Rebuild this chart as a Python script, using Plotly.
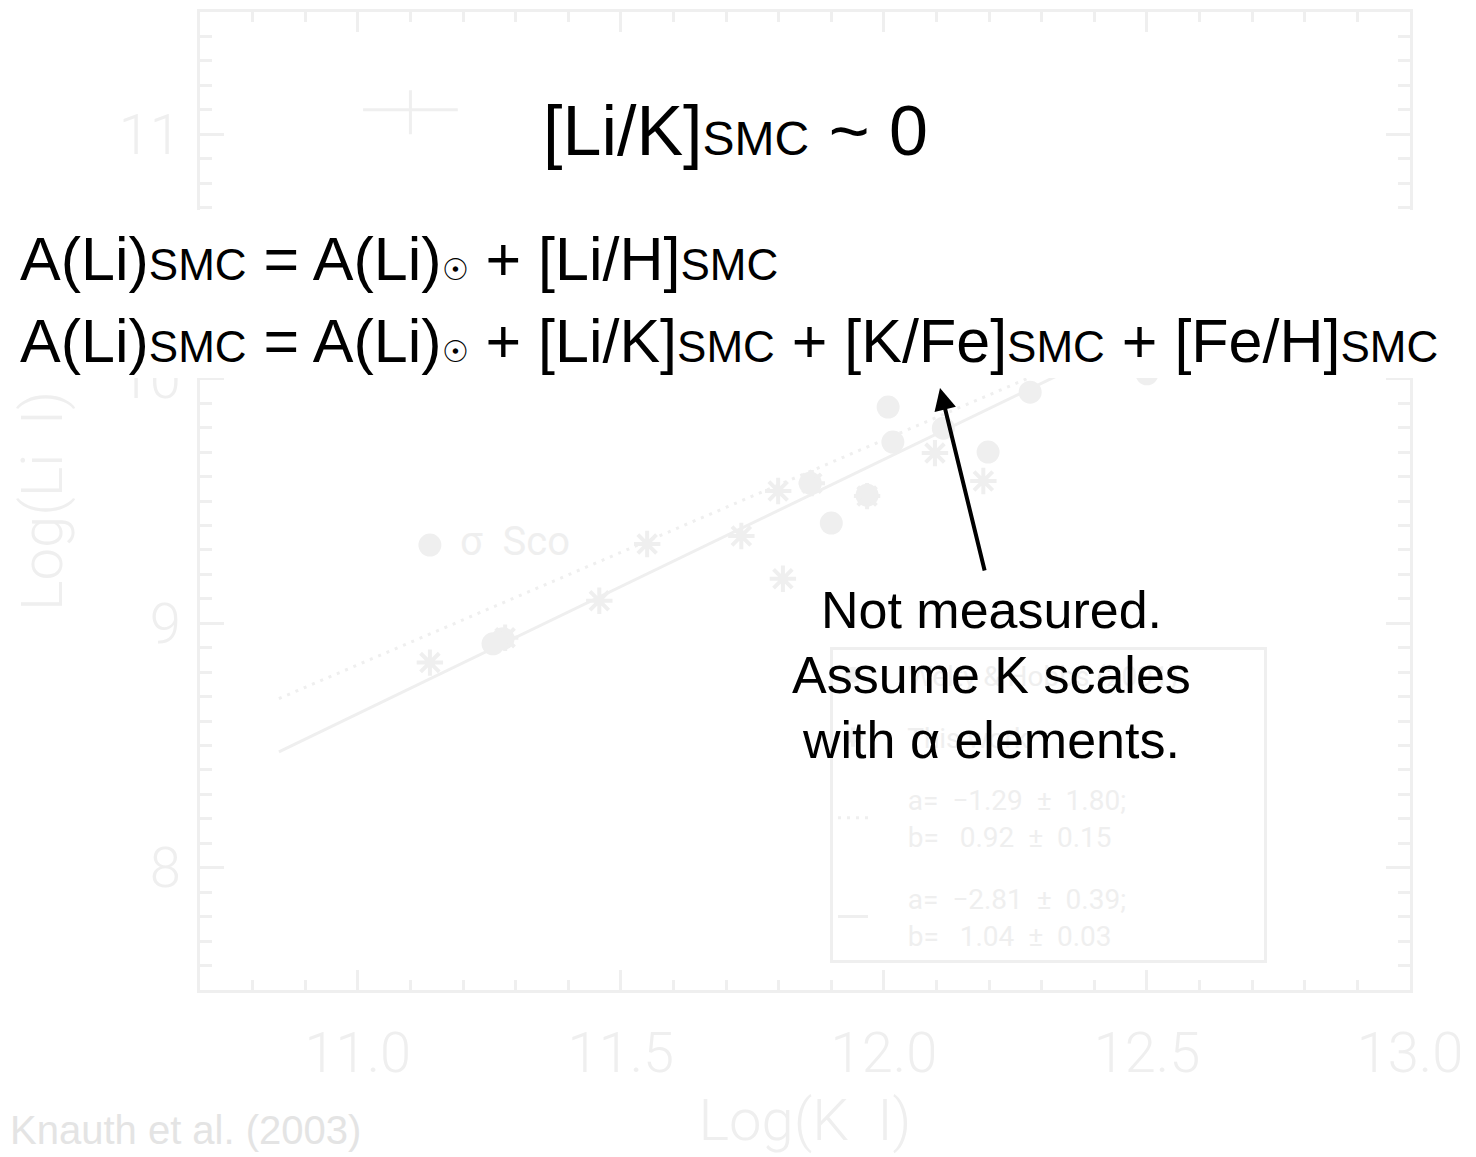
import plotly.graph_objects as go

# --- data -----------------------------------------------------------------
# Welty & Hobbs (2001) sight lines: log N(K I), log N(Li I)
WH_LOGK = [11.137, 11.257, 11.276, 11.860, 11.900, 11.968, 12.008, 12.017,
           12.113, 12.198, 12.278, 12.500]
WH_LOGLI = [9.320, 8.916, 8.937, 9.573, 9.410, 9.524, 9.884, 9.741,
            9.798, 9.700, 9.945, 10.02]

# This work
TW_LOGK = [11.137, 11.280, 11.459, 11.550, 11.729, 11.799, 11.808, 11.863,
           11.968, 12.097, 12.189]
TW_LOGLI = [8.839, 8.941, 9.092, 9.324, 9.357, 9.541, 9.182, 9.573,
            9.520, 9.696, 9.582]

# Linear fits  log N(Li I) = a + b * log N(K I)
FIT_DOTTED = {"a": -1.29, "a_err": 1.80, "b": 0.92, "b_err": 0.15}
FIT_SOLID = {"a": -2.81, "a_err": 0.39, "b": 1.04, "b_err": 0.03}
FIT_X = [10.85, 12.5]

# Typical uncertainty
ERR_X, ERR_Y = [11.10], [11.10]
ERR_DX, ERR_DY_UP, ERR_DY_DOWN = [0.09], [0.08], [0.10]

LABELLED_STAR = {"name": "σ  Sco", "x": 11.137, "y": 9.320}

X_RANGE = [10.7, 13.0]
Y_RANGE = [7.5, 11.5]
X_TICKS = [11.0, 11.5, 12.0, 12.5, 13.0]
X_TICKTEXT = ["11.0", "11.5", "12.0", "12.5", "13.0"]
Y_TICKS = [8, 9, 10, 11]
Y_TICKTEXT = ["8", "9", "10", "11"]

# --- style ----------------------------------------------------------------
FAINT = "#efefef"
GRAY_FONT = "Roboto, sans-serif"
BLACK_FONT = "Liberation Sans, Arial, Helvetica, sans-serif"

W, H = 1476, 1157
L, R, T, B = 200, 66, 12, 167

LEGEND_PAD = "     "      # indent of legend text after the symbol
LEGEND_TAIL = " " * 19     # keeps the legend frame wide


def fit_label(f):
    a_line = f"a=  {f['a']:.2f}  ±  {f['a_err']:.2f};".replace("-", "−")
    b_line = f"b=   {f['b']:.2f}  ±  {f['b_err']:.2f}"
    return f"{LEGEND_PAD}{a_line}{LEGEND_TAIL}<br>{LEGEND_PAD}{b_line}"


def fit_line(f):
    return [f["a"] + f["b"] * x for x in FIT_X]


fig = go.Figure()

fig.add_trace(go.Scatter(
    x=FIT_X, y=fit_line(FIT_DOTTED), mode="lines",
    line=dict(color=FAINT, width=3, dash="3px,6px"),
    name=fit_label(FIT_DOTTED), legendgroup="c", legendrank=3))
fig.add_trace(go.Scatter(
    x=FIT_X, y=fit_line(FIT_SOLID), mode="lines",
    line=dict(color=FAINT, width=3),
    name=fit_label(FIT_SOLID), legendgroup="d", legendrank=4))
fig.add_trace(go.Scatter(
    x=WH_LOGK, y=WH_LOGLI, mode="markers",
    marker=dict(symbol="circle", size=23, color=FAINT),
    name=LEGEND_PAD + "Welty & Hobbs (2001)", legendgroup="a", legendrank=1))
fig.add_trace(go.Scatter(
    x=TW_LOGK, y=TW_LOGLI, mode="markers",
    marker=dict(symbol="asterisk-open", size=22, color=FAINT,
                line=dict(color=FAINT, width=4)),
    name=LEGEND_PAD + "This work", legendgroup="b", legendrank=2))
fig.add_trace(go.Scatter(
    x=ERR_X, y=ERR_Y, mode="markers",
    marker=dict(size=1, color="rgba(0,0,0,0)"),
    error_x=dict(type="data", array=ERR_DX, color=FAINT, thickness=3, width=0),
    error_y=dict(type="data", array=ERR_DY_UP, arrayminus=ERR_DY_DOWN,
                 color=FAINT, thickness=3, width=0),
    showlegend=False, hoverinfo="skip"))

axis_common = dict(
    showline=True, linecolor=FAINT, linewidth=3, mirror="allticks",
    ticks="inside", tickcolor=FAINT, tickwidth=3,
    showgrid=False, zeroline=False,
    tickfont=dict(family=GRAY_FONT, size=56, color=FAINT, weight=300),
)

fig.update_xaxes(
    range=X_RANGE, tickvals=X_TICKS, ticktext=X_TICKTEXT, ticklen=20,
    minor=dict(dtick=0.1, ticks="inside", ticklen=10, tickcolor=FAINT,
               tickwidth=3, showgrid=False),
    ticklabelstandoff=12,
    title=dict(text="Log(K  I)", standoff=10,
               font=dict(family=GRAY_FONT, size=58, color=FAINT, weight=300)),
    **axis_common)
fig.update_yaxes(
    range=Y_RANGE, tickvals=Y_TICKS, ticktext=Y_TICKTEXT, ticklen=24,
    minor=dict(dtick=0.1, ticks="inside", ticklen=12, tickcolor=FAINT,
               tickwidth=3, showgrid=False),
    ticklabelstandoff=5,
    title=dict(text="Log(Li  I)", standoff=38,
               font=dict(family=GRAY_FONT, size=58, color=FAINT, weight=300)),
    **axis_common)


def px_x(p):
    return (p - L) / (W - L - R)


def px_y(p):
    return (H - B - p) / (H - T - B)


annotations = []

# star label
annotations.append(dict(
    x=LABELLED_STAR["x"], y=LABELLED_STAR["y"], xref="x", yref="y",
    text=LABELLED_STAR["name"], showarrow=False, xanchor="left",
    xshift=28, yshift=4,
    font=dict(family=GRAY_FONT, size=40, color=FAINT)))

# credit
annotations.append(dict(
    x=px_x(8), y=px_y(1130), xref="paper", yref="paper",
    text="Knauth et al. (2003)", showarrow=False, xanchor="left",
    yanchor="middle",
    font=dict(family=BLACK_FONT, size=40, color="#e4e4e4")))

SUB = '<span style="font-size:44px">SMC</span>'
SUN = '<span style="font-size:30px">☉</span>'
TSUB = '<span style="font-size:48px">SMC</span>'

annotations.append(dict(
    x=px_x(735), y=px_y(131), xref="paper", yref="paper",
    text=f"[Li/K]{TSUB} ~ 0", showarrow=False,
    xanchor="center", yanchor="middle",
    font=dict(family=BLACK_FONT, size=70, color="black")))

annotations.append(dict(
    x=px_x(18), y=px_y(259), xref="paper", yref="paper",
    text=f"A(Li){SUB} = A(Li){SUN} + [Li/H]{SUB}", showarrow=False,
    xanchor="left", yanchor="middle",
    font=dict(family=BLACK_FONT, size=61, color="black")))
annotations.append(dict(
    x=px_x(18), y=px_y(341), xref="paper", yref="paper",
    text=(f"A(Li){SUB} = A(Li){SUN} + [Li/K]{SUB} + "
          f"[K/Fe]{SUB} + [Fe/H]{SUB}"),
    showarrow=False, xanchor="left", yanchor="middle",
    font=dict(family=BLACK_FONT, size=61, color="black")))

for txt, yc in [("Not measured.", 610), ("Assume K scales", 675),
                ("with α elements.", 740)]:
    annotations.append(dict(
        x=px_x(991), y=px_y(yc), xref="paper", yref="paper",
        text=txt, showarrow=False, xanchor="center", yanchor="middle",
        font=dict(family=BLACK_FONT, size=52, color="black")))

# arrow pointing at [K/Fe]
annotations.append(dict(
    x=px_x(940), y=px_y(388), xref="paper", yref="paper",
    ax=45, ay=184, axref="pixel", ayref="pixel",
    text="", showarrow=True, arrowhead=2, arrowsize=1.1, arrowwidth=4,
    arrowcolor="black", standoff=0))

# white band behind the equations
shapes = [dict(type="rect", xref="paper", yref="paper",
               x0=-0.5, x1=1.5, y0=px_y(378), y1=px_y(210),
               fillcolor="white", line=dict(width=0), layer="above")]

fig.update_layout(
    width=W, height=H, autosize=False,
    margin=dict(l=L, r=R, t=T, b=B, autoexpand=False),
    paper_bgcolor="white", plot_bgcolor="white",
    showlegend=True,
    legend=dict(
        x=px_x(830), y=px_y(647), xanchor="left", yanchor="top",
        bordercolor=FAINT, borderwidth=3, bgcolor="rgba(0,0,0,0)",
        font=dict(family=GRAY_FONT, size=28, color=FAINT),
        traceorder="grouped", tracegroupgap=23, itemwidth=30,
    ),
    annotations=annotations, shapes=shapes,
)

fig.write_html("out.html")
